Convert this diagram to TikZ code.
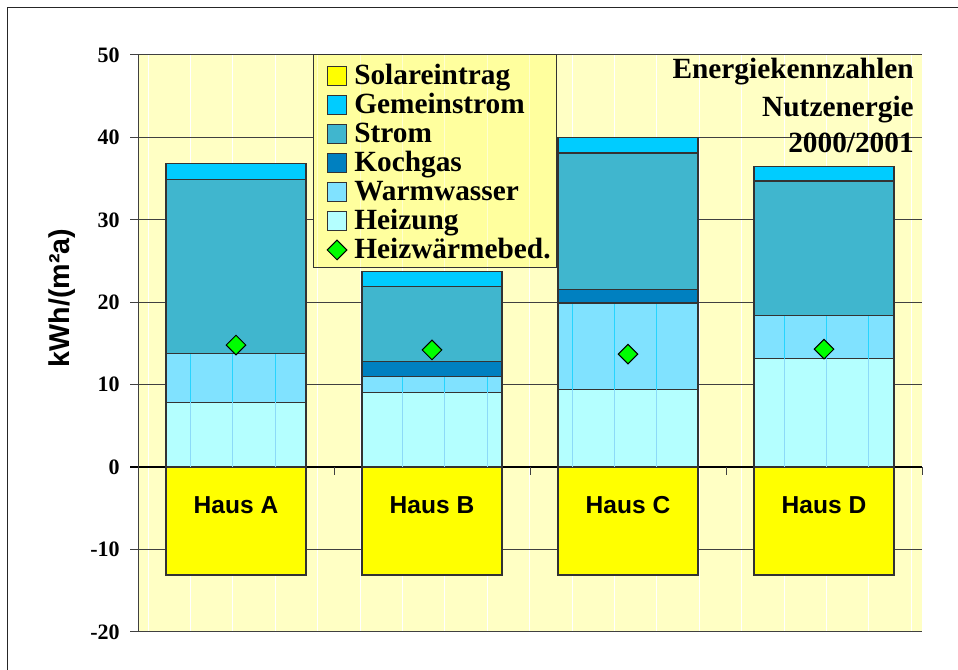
\documentclass[tikz,border=0pt]{standalone}
\usepackage{fontspec}
\setmainfont{Liberation Serif}
\setsansfont{Liberation Sans}
\usetikzlibrary{positioning,shapes.geometric}
\usepackage{xcolor}

\definecolor{solar}{HTML}{FFFF00}
\definecolor{gemein}{HTML}{00CCFF}
\definecolor{strom}{HTML}{40B6CE}
\definecolor{kochgas}{HTML}{0080C0}
\definecolor{warmw}{HTML}{80E2FF}
\definecolor{heiz}{HTML}{B4FFFF}
\definecolor{plotbg}{HTML}{FFFFC4}
\definecolor{legbg}{HTML}{FFFF9E}
\definecolor{gridc}{HTML}{404040}

\tikzset{
  seg/.style={draw=black!80, line width=0.9pt},
  gridline/.style={draw=gridc, line width=0.75pt},
  texline/.style={draw=white, line width=0.7pt},
  ticklabel/.style={anchor=east, inner sep=0pt, font=\fontsize{16.5}{18}\selectfont\bfseries},
  legtext/.style={anchor=base west, inner sep=0pt, font=\fontsize{22}{24}\selectfont\bfseries},
  legbox/.style={draw=black!80, line width=0.75pt, minimum size=14.3pt, inner sep=0pt},
  titletext/.style={anchor=base east, inner sep=0pt, font=\fontsize{22}{24}\selectfont\bfseries},
  hauslabel/.style={inner sep=0pt, font=\fontsize{18.4}{20}\sffamily\bfseries},
  heizmark/.style={diamond, draw=black, line width=0.75pt, fill=green, minimum size=15pt, inner sep=0pt}
}

\begin{document}
\begin{tikzpicture}[x=0.75pt, y=-0.75pt]
	\useasboundingbox (0,0) rectangle (958,670);
	% frame
	\draw[black!85, line width=1.1pt] (7.5,672) -- (7.5,7.5) -- (960,7.5);
	% plot area
	\fill[plotbg] (138,55) rectangle (922,632);
	\foreach \i in {0,...,18}
		\draw[texline] ({148+42.4*\i},55) -- ({148+42.4*\i},632);
	\begin{scope}[shift={(0,467)}, yscale=-8.24]
		\foreach \v in {50,40,...,-10}
			\draw[gridline] (130,\v) -- (922,\v);
		\draw[black, line width=0.9pt] (130,0) -- (922,0);
		\foreach \xt in {334,530,726,922}
			\draw[gridline] (\xt,0) -- (\xt,-1);
		\draw[gridline] (130,-20) -- (922,-20);
		\draw[gridline] (138,50) -- (138,-20);
		\foreach \v in {50,40,...,-20}
			\node[ticklabel] (tick\v) at (120,\v) {\v};
		% bars: centre / Heizung / Warmwasser / Kochgas / Strom / Gemeinstrom / Bedarf / name
		\foreach \xc/\hz/\ww/\kg/\st/\gs/\bd/\name in
			{236/7.85/13.8/13.8/34.9/36.8/14.8/A,
			 432/9.07/11.0/12.8/21.9/23.7/14.2/B,
			 628/9.4/19.9/21.5/38.1/40.0/13.7/C,
			 824/13.15/18.4/18.4/34.7/36.5/14.3/D}{
			\draw[seg, fill=solar] (\xc-70,0) rectangle (\xc+70,-13.1);
			\draw[seg, fill=heiz] (\xc-70,0) rectangle (\xc+70,\hz);
			\draw[seg, fill=warmw] (\xc-70,\hz) rectangle (\xc+70,\ww);
			\begin{scope}
				\clip (\xc-70,0) rectangle (\xc+70,\hz);
				\foreach \i in {0,...,18}
					\draw[draw=cyan!45, line width=0.7pt] ({148+42.4*\i},0) -- ({148+42.4*\i},\hz);
			\end{scope}
			\begin{scope}
				\clip (\xc-70,\hz) rectangle (\xc+70,\ww);
				\foreach \i in {0,...,18}
					\draw[draw=gemein!85, line width=0.7pt] ({148+42.4*\i},\hz) -- ({148+42.4*\i},\ww);
			\end{scope}
			\draw[seg, fill=kochgas] (\xc-70,\ww) rectangle (\xc+70,\kg);
			\draw[seg, fill=strom] (\xc-70,\kg) rectangle (\xc+70,\st);
			\draw[seg, fill=gemein] (\xc-70,\st) rectangle (\xc+70,\gs);
			\draw[seg] (\xc-70,-13.1) rectangle (\xc+70,\gs);
			\node[heizmark] (bedarf\name) at (\xc,\bd) {};
			\node[hauslabel] (haus\name) at (\xc,-4.6) {Haus \name};
		}
	\end{scope}
	% legend
	\fill[legbg] (313,55) rectangle (556,268);
	\begin{scope}
		\clip (313,55) rectangle (556,268);
		\foreach \i in {0,...,18}
			\draw[texline, white!50!legbg] ({148+42.4*\i},55) -- ({148+42.4*\i},268);
	\end{scope}
	\draw[black!80, line width=0.75pt] (313,55) rectangle (556,268);
	\foreach \col/\txt [count=\k from 0] in
		{solar/Solareintrag, gemein/Gemeinstrom, strom/Strom, kochgas/Kochgas,
		 warmw/Warmwasser, heiz/Heizung}{
		\node[legbox, fill=\col] (key\k) at (337,{76+29*\k}) {};
		\node[legtext] (leg\k) at (354,{85+29*\k}) {\txt};
	}
	\node[heizmark] (key6) at (337,250) {};
	\node[legtext] (leg6) at (354,259) {Heizwärmebed.};
	% title
	\node[titletext] (title1) at (914,79) {Energiekennzahlen};
	\node[titletext] (title2) at (914,116.5) {Nutzenergie};
	\node[titletext] (title3) at (914,153) {2000/2001};
	% axis label
	\node[rotate=90, inner sep=0pt, font=\fontsize{21.5}{24}\sffamily\bfseries] (ylabel) at (62,298) {kWh/(m²a)};
\end{tikzpicture}
\end{document}
